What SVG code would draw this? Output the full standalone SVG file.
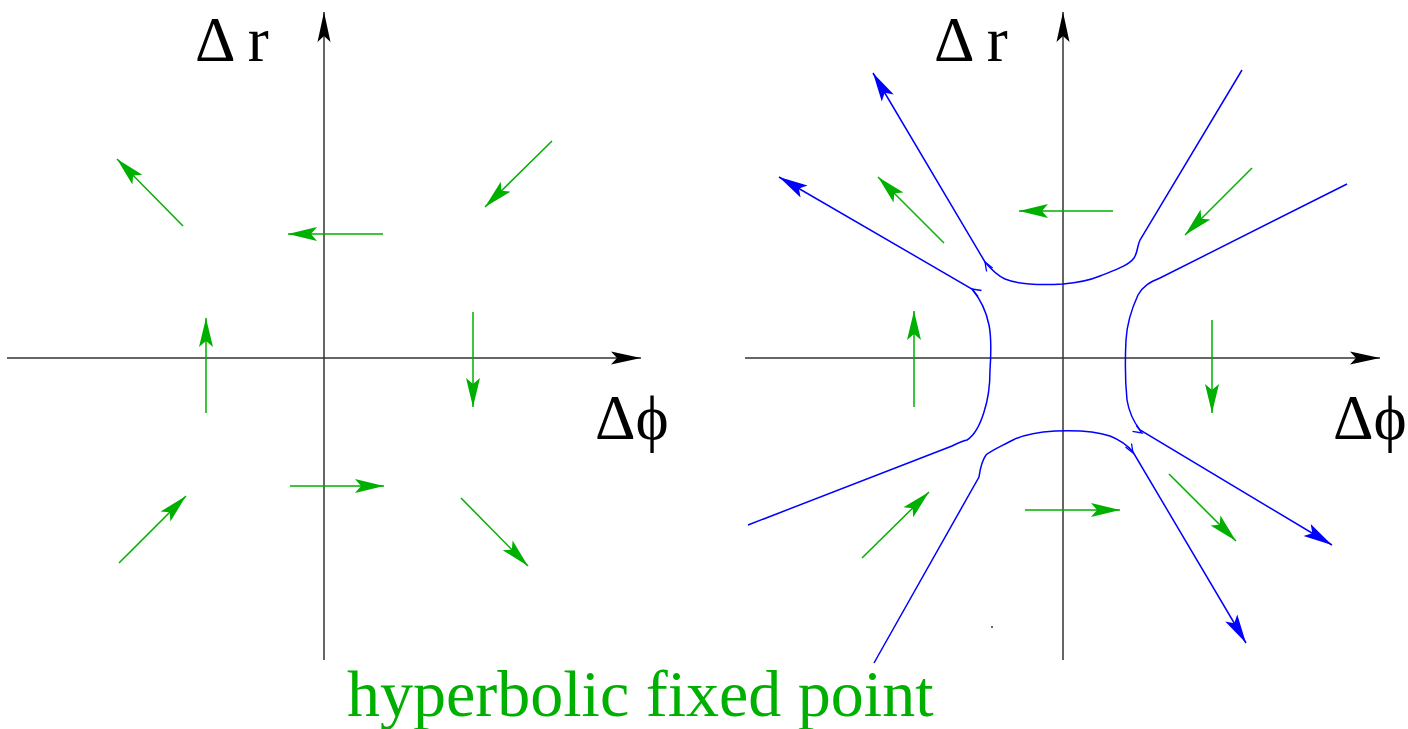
<svg xmlns="http://www.w3.org/2000/svg" width="1408" height="729" viewBox="0 0 1408 729">
<style>
.axis{stroke:#333;stroke-width:1.5;fill:none;marker-end:url(#ak)}
.g{stroke:#00b000;stroke-width:1.5;fill:none;marker-end:url(#ag)}
.b{stroke:#0000ff;stroke-width:1.5;fill:none;marker-end:url(#ab)}
.v{stroke:#0000ff;stroke-width:1.3;fill:none}
.lbl{font-family:"Liberation Serif","Times New Roman",serif;font-size:63px;fill:#000}
.title{font-family:"Liberation Serif","Times New Roman",serif;font-size:66px;fill:#00b000}
</style>
<defs>
<marker id="ak" markerUnits="userSpaceOnUse" markerWidth="40" markerHeight="20" viewBox="-32 -10 40 20" refX="0" refY="0" orient="auto" overflow="visible"><path d="M0,0 L-30,-6.5 L-24,0 L-30,6.5 Z" fill="#000"/></marker>
<marker id="ag" markerUnits="userSpaceOnUse" markerWidth="40" markerHeight="20" viewBox="-32 -10 40 20" refX="0" refY="0" orient="auto" overflow="visible"><path d="M0,0 L-29,-7 L-23,0 L-29,7 Z" fill="#00b000"/></marker>
<marker id="ab" markerUnits="userSpaceOnUse" markerWidth="40" markerHeight="20" viewBox="-32 -10 40 20" refX="0" refY="0" orient="auto" overflow="visible"><path d="M0,0 L-29,-7 L-23,0 L-29,7 Z" fill="#0000ff"/></marker>
</defs>

<g id="left-axes">
<path class="axis" d="M7,358 L641,358"/>
<path class="axis" d="M324,660 L324,12"/>
<text class="lbl" x="195" y="61">Δ r</text>
<text class="lbl" x="595" y="439">Δϕ</text>
</g>

<g id="left-flow">
<path class="g" d="M183,226 L117,159"/>
<path class="g" d="M383,234 L288,234"/>
<path class="g" d="M552,141 L485,207"/>
<path class="g" d="M206,413 L206,318"/>
<path class="g" d="M473,312 L473,407"/>
<path class="g" d="M290,486 L384,486"/>
<path class="g" d="M119,563 L186,496"/>
<path class="g" d="M461,498 L528,566"/>
</g>

<g id="right-axes">
<path class="axis" d="M745,358 L1380,358"/>
<path class="axis" d="M1063,660 L1063,12"/>
<text class="lbl" x="934" y="61">Δ r</text>
<text class="lbl" x="1333" y="439">Δϕ</text>
</g>

<g id="right-flow">
<path class="g" d="M944,243 L878,177"/>
<path class="g" d="M1113,211 L1019,211"/>
<path class="g" d="M1252,168 L1185,235"/>
<path class="g" d="M914,407 L914,311"/>
<path class="g" d="M1212,320 L1212,413"/>
<path class="g" d="M1025,510 L1120,510"/>
<path class="g" d="M862,558 L929,492"/>
<path class="g" d="M1169,474 L1236,541"/>
</g>

<g id="trajectories">
<path class="b" d="M1242,70 L1140,240 C1137,246 1138,252 1134,258 C1128,266 1115,270 1100,276 C1088,281 1075,283 1063,284 C1045,285 1020,285 1005,279 C996,275 990,268 985,262 L873,73"/>
<path class="b" d="M748,525 L952,446 C958,443 962,441 967,440 C975,435 980,425 984,412 C988,400 990,385 990,370 C991,355 992,340 989,325 C986,310 981,300 972,289 L779,177"/>
<path class="b" d="M1347,184 L1160,278 C1150,282 1143,286 1138,295 C1132,308 1127,322 1126,340 C1125,360 1125,380 1127,400 C1129,412 1133,421 1140,430 L1332,545"/>
<path class="b" d="M874,663 L979,477 C980,470 981,462 986,455 C992,450 1002,446 1013,440 C1025,434 1040,432 1055,431 C1075,430 1095,431 1110,436 C1120,440 1128,446 1133,452 L1246,643"/>
<polyline class="v" points="992.6,267.9 985,262 986.6,271.5"/>
<polyline class="v" points="981.5,290.5 972,289 978,296.5"/>
<polyline class="v" points="1132.5,431.4 1142,433 1136.1,425.4"/>
<polyline class="v" points="1125.5,447 1133,453 1131.5,443.5"/>
</g>

<rect x="991" y="626" width="2" height="2" fill="#666"/>

<g id="caption">
<text class="title" x="347" y="716">hyperbolic fixed point</text>
</g>
</svg>
